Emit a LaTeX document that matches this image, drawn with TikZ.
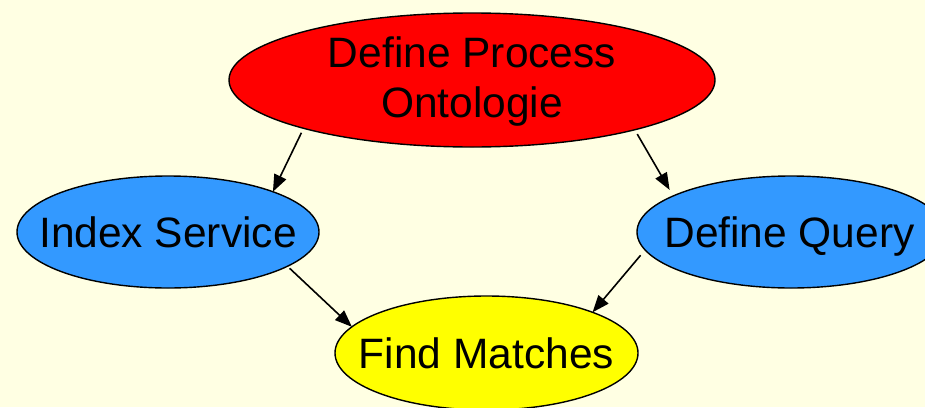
\documentclass[tikz,border=0pt]{standalone}
\usepackage{fontspec}
\setmainfont{Liberation Sans}
\usetikzlibrary{shapes.geometric,arrows.meta}
\definecolor{bgc}{HTML}{FFFFE3}
\definecolor{blu}{HTML}{3399FF}
\definecolor{yel}{HTML}{FFFF00}
\definecolor{rd}{HTML}{FF0000}
\newcommand{\ctext}[2]{\smash{\makebox[0pt]{\raisebox{#1}{#2}}}}
\tikzset{
  ell/.style={ellipse, draw=black, line width=1.4pt, inner sep=0pt, outer sep=0pt,
    font=\fontsize{42.5}{50}\selectfont},
  arr/.style={-{Triangle[length=17pt,width=13pt]}, line width=1.6pt},
}
\begin{document}
\begin{tikzpicture}[x=1pt,y=-1pt]
\fill[bgc] (0,0) rectangle (925,407);
\useasboundingbox (0,0) rectangle (925,407);
\node[ell, fill=rd, minimum width=486pt, minimum height=134pt] (onto) at (472,80)
  {\ctext{12.3pt}{Define Process}\ctext{-37.7pt}{Ontologie}};
\node[ell, fill=blu, minimum width=302pt, minimum height=112pt] (index) at (168,232)
  {\ctext{-15pt}{Index Service}};
\node[ell, fill=blu, minimum width=308pt, minimum height=112pt] (dq) at (791,232)
  {\ctext{-15pt}{\hspace*{-3pt}Define Query}};
\node[ell, fill=yel, minimum width=303pt, minimum height=114pt] (fm) at (486.5,353)
  {\ctext{-15pt}{Find Matches}};
\draw[arr, shorten <=5pt] (onto.196.7) -- (index.21.6);
\draw[arr, shorten <=5pt, shorten >=7pt] (onto.343.2) -- (dq.163.5);
\draw[arr, shorten <=3pt] (index.344) -- (fm.169.3);
\draw[arr, shorten <=7pt] (dq.187.1) -- (fm.21.5);
\end{tikzpicture}
\end{document}
